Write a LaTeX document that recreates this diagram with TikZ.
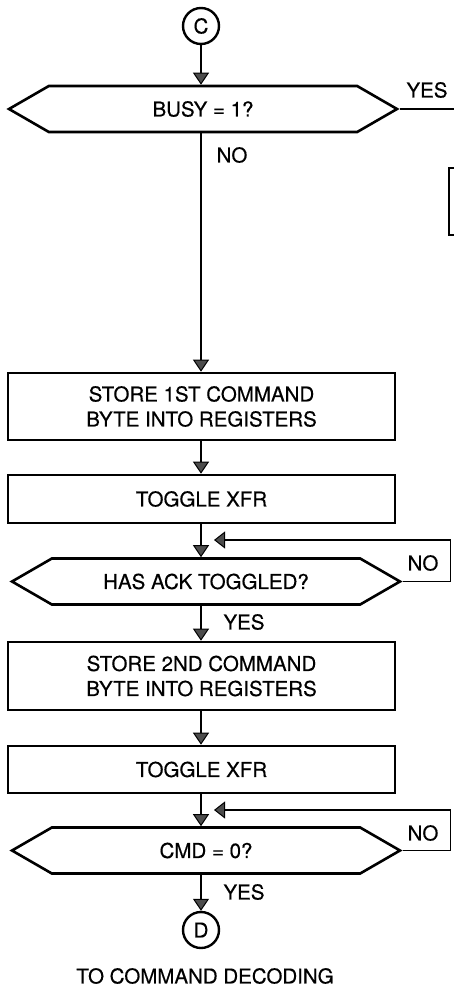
\documentclass[tikz,border=0pt]{standalone}
\usepackage{fontspec}
\setmainfont{TeX Gyre Heros}[FakeBold=0.4]
\usetikzlibrary{arrows.meta,shapes.symbols}

\begin{document}
\begin{tikzpicture}[x=1pt, y=-1pt,
        every node/.style={font=\fontsize{20.5}{25}\selectfont},
        proc/.style={draw, line width=2.6pt, minimum width=387pt, align=center},
        test/.style={draw, line width=2.6pt, signal, signal to=west and east, signal pointer angle=60, minimum width=388pt, minimum height=46pt},
        conn/.style={draw, line width=2.4pt, circle, minimum size=36pt, inner sep=0pt},
        flow/.style={line width=1.5pt, -{Triangle[width=16pt, length=12pt, fill=black!70, line width=1pt]}},
        back/.style={line width=1.2pt, -{Triangle[width=17pt, length=11pt, fill=black!70, line width=1pt]}}]
        \useasboundingbox (0,0) rectangle (454,991);
        \clip (0,0) rectangle (454,991);

        \node[conn] (c) at (201,26) {C};
        \node[test] (busy) at (203,109) {BUSY = 1?};
        \node[draw, line width=2.8pt, minimum width=60pt, minimum height=67pt] (nextbox) at (479,201.5) {};

        \node[proc, minimum height=67pt] (store1) at (201.5,406.5) {STORE 1ST COMMAND\\BYTE INTO REGISTERS};
        \node[proc, minimum height=48pt] (xfr1) at (201.5,499) {TOGGLE XFR};
        \node[test] (ack) at (206,581.5) {HAS ACK TOGGLED?};

        \node[proc, minimum height=68pt] (store2) at (201.5,676) {STORE 2ND COMMAND\\BYTE INTO REGISTERS};
        \node[proc, minimum height=47pt] (xfr2) at (201.5,769.5) {TOGGLE XFR};
        \node[test] (cmd) at (206,850.5) {CMD = 0?};

        \node[conn] (d) at (201,930) {D};
        \node (todec) at (205,976) {TO COMMAND DECODING};

        % branch labels
        \node (busyyes) at (427,90) {YES};
        \node (busyno) at (232,155) {NO};
        \node (ackno) at (423,563) {NO};
        \node (ackyes) at (244,622) {YES};
        \node (cmdno) at (423,833) {NO};
        \node (cmdyes) at (244,892) {YES};

        \coordinate (busyout) at (470,109);
        \coordinate (ackin) at (214,540);
        \coordinate (cmdin) at (214,810);

        \draw[flow] (c) -- (c |- busy.north);
        \draw[flow] (c |- busy.south) -- (c |- store1.north);
        \draw[flow] (store1.south -| c) -- (c |- xfr1.north);
        \draw[flow] (xfr1.south -| c) -- (c |- ack.north);
        \draw[flow] (c |- ack.south) -- (c |- store2.north);
        \draw[flow] (store2.south -| c) -- (c |- xfr2.north);
        \draw[flow] (xfr2.south -| c) -- (c |- cmd.north);
        \draw[flow] (c |- cmd.south) -- (d);

        \draw[line width=1.2pt] (busy.east) -- (busyout);
        \draw[back] (ack.east) -- ++(48,0) |- (ackin);
        \draw[back] (cmd.east) -- ++(48,0) |- (cmdin);
\end{tikzpicture}
\end{document}
